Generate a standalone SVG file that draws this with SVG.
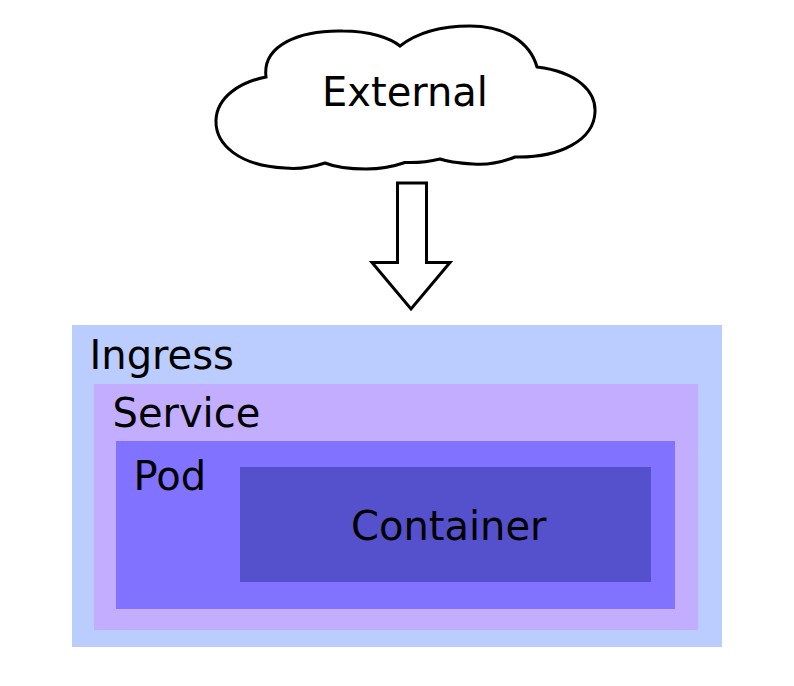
<svg xmlns="http://www.w3.org/2000/svg" width="794" height="686" viewBox="0 0 794 686">
<style>
text{font-family:"DejaVu Sans","Liberation Sans",sans-serif;font-size:40px;fill:#000}
.outline{fill:#fff;stroke:#000;stroke-width:3;stroke-linejoin:miter}
</style>
<rect x="0" y="0" width="794" height="686" fill="#fff"/>
<g id="ingress">
<rect x="72" y="325" width="650" height="322" fill="#bbccff"/>
<text x="89.5" y="369">Ingress</text>
</g>
<g id="service">
<rect x="94" y="384" width="604" height="246" fill="#c2adff"/>
<text x="112.5" y="427">Service</text>
</g>
<g id="pod">
<rect x="116" y="441" width="559" height="168" fill="#8172ff"/>
<text x="133.5" y="489.5">Pod</text>
</g>
<g id="container">
<rect x="240" y="467" width="411" height="115" fill="#5550cb"/>
<text x="351" y="539.5">Container</text>
</g>
<g id="external">
<path class="outline" d="M 266 77 C 262 45 300 30 343 31 C 370 31 390 38 400 46 C 418 32 442 26 470 26 C 505 26 530 42 537 67 C 578 72 596 92 595 112 C 594 140 560 158 515 157 C 500 163 485 165 473 164 C 458 163 448 162 440 159 C 428 162 418 163 405 162.5 C 392 167 380 169 366 169 C 350 169 335 167 325 163 C 310 168 295 169 285 168 C 240 166 215 145 216 120 C 217 97 240 82 266 77 Z"/>
<text x="405" y="106" text-anchor="middle">External</text>
</g>
<g id="connectors">
<polygon class="outline" points="397.5,183 426.5,183 426.5,262.5 450,262.5 411,309 372,262.5 397.5,262.5"/>
</g>
</svg>
